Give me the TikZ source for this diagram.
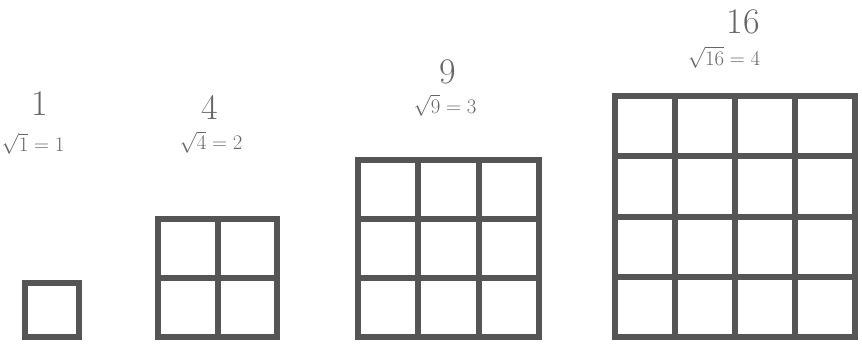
\documentclass[tikz,border=0pt]{standalone}
\usepackage{tikz}
\usetikzlibrary{positioning}
\definecolor{PencilGrey}{HTML}{555555}
\definecolor{PencilText}{HTML}{666666}

\begin{document}
\begin{tikzpicture}[x=1pt,y=-1pt,node distance=12pt]
  \tikzstyle{sqline}=[draw=PencilGrey,line width=6pt,line cap=rect]
  \tikzstyle{sqnum}=[text=PencilText,inner sep=0pt,
    font=\fontsize{36}{38}\selectfont]
  \tikzstyle{sqroot}=[text=PencilText,inner sep=0pt,font=\huge]
  \useasboundingbox (0,0) rectangle (862,346);
  % the four squares, cut into n by n cells
  \foreach \n/\xa/\w/\h in {1/25/54/54, 2/158/119/118, 3/358/181/177, 4/615/240/241}{
    \foreach \i in {0,...,\n}{
      \draw[sqline] (\xa+\i*\w/\n,337) -- (\xa+\i*\w/\n,337-\h);
      \draw[sqline] (\xa,337-\i*\h/\n) -- (\xa+\w,337-\i*\h/\n);
    }
  }
  % labels
  \node[sqnum] (n1) at (40,104) {1};
  \node[sqroot,below=17pt of n1,xshift=-7pt] (r1) {$\sqrt{1}=1$};
  \node[sqnum] (n4) at (210,107) {4};
  \node[sqroot,below=of n4,xshift=1pt] (r4) {$\sqrt{4}=2$};
  \node[sqnum] (n9) at (448,72) {9};
  \node[sqroot,below=10pt of n9,xshift=-3pt] (r9) {$\sqrt{9}=3$};
  \node[sqnum] (n16) at (743,22) {16};
  \node[sqroot,below=of n16,xshift=-19pt] (r16) {$\sqrt{16}=4$};
\end{tikzpicture}
\end{document}
